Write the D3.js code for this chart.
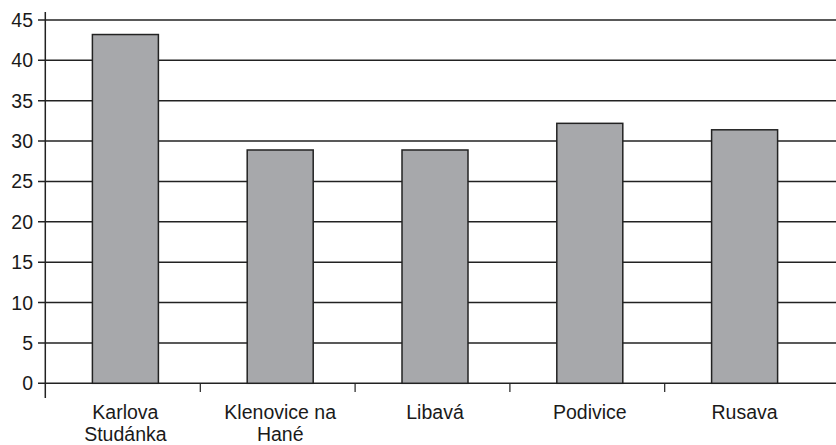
<!DOCTYPE html>
<html>
<head>
<meta charset="utf-8">
<script src="https://cdn.jsdelivr.net/npm/d3@7"></script>
<style>
  body { margin: 0; background: #fff; }
  svg { display: block; font-family: "Liberation Sans", Arial, sans-serif; }
</style>
</head>
<body>
<div id="viz"></div>
<script>
let categories = [['Karlova', 'Studánka'], ['Klenovice na', 'Hané'], ['Libavá'], ['Podivice'], ['Rusava']];
let values = [43.2, 28.9, 28.9, 32.2, 31.4];
let yTicks = [0, 5, 10, 15, 20, 25, 30, 35, 40, 45];

let width = 836, height = 445;
let margin = { top: 20, left: 45, bottom: 62 };
let zeroY = 383.3;

let svg = d3.select('#viz')
    .append('svg')
    .attr('width', width)
    .attr('height', height);

let yScale = d3.scaleLinear()
    .domain([0, 45])
    .range([zeroY, margin.top]);

let names = categories.map((c) => c.join(' '));
let xScale = d3.scaleBand()
    .domain(names)
    .range([47, 821]);

let barWidth = 66;

// gridlines
svg.append('g')
    .selectAll('line')
    .data(yTicks)
    .enter()
    .append('line')
    .attr('x1', 38)
    .attr('x2', width)
    .attr('y1', (d) => yScale(d))
    .attr('y2', (d) => yScale(d))
    .attr('stroke', '#222')
    .attr('stroke-width', 1.5);

// y labels
svg.append('g')
    .selectAll('text')
    .data(yTicks)
    .enter()
    .append('text')
    .attr('x', 33)
    .attr('y', (d) => yScale(d))
    .attr('dy', '0.36em')
    .attr('text-anchor', 'end')
    .attr('font-size', 19.5)
    .attr('fill', '#1a1a1a')
    .text((d) => d);

// bars
svg.append('g')
    .selectAll('rect')
    .data(values)
    .enter()
    .append('rect')
    .attr('x', (d, i) => xScale(names[i]) + xScale.bandwidth() / 2 - barWidth / 2 + 1)
    .attr('y', (d) => yScale(d))
    .attr('width', barWidth)
    .attr('height', (d) => zeroY - yScale(d))
    .attr('fill', '#a7a8ab')
    .attr('stroke', '#222')
    .attr('stroke-width', 1.5);

// y axis line
svg.append('line')
    .attr('x1', 45.3).attr('x2', 45.3)
    .attr('y1', 12).attr('y2', 398)
    .attr('stroke', '#222')
    .attr('stroke-width', 1.5);

// category separator ticks
svg.append('g')
    .selectAll('line')
    .data(names.slice(1))
    .enter()
    .append('line')
    .attr('x1', (d) => xScale(d) - 1.5)
    .attr('x2', (d) => xScale(d) - 1.5)
    .attr('y1', zeroY)
    .attr('y2', 392)
    .attr('stroke', '#222')
    .attr('stroke-width', 1.2);

// category labels
let labels = svg.append('g')
    .selectAll('text')
    .data(categories)
    .enter()
    .append('text')
    .attr('text-anchor', 'middle')
    .attr('font-size', 19.5)
    .attr('fill', '#1a1a1a')
    .attr('x', (d, i) => xScale(names[i]) + xScale.bandwidth() / 2 + 1);

labels.selectAll('tspan')
    .data((d) => d)
    .enter()
    .append('tspan')
    .attr('x', function () { return d3.select(this.parentNode).attr('x'); })
    .attr('y', (d, i) => 419 + i * 22)
    .text((d) => d);
</script>
</body>
</html>
